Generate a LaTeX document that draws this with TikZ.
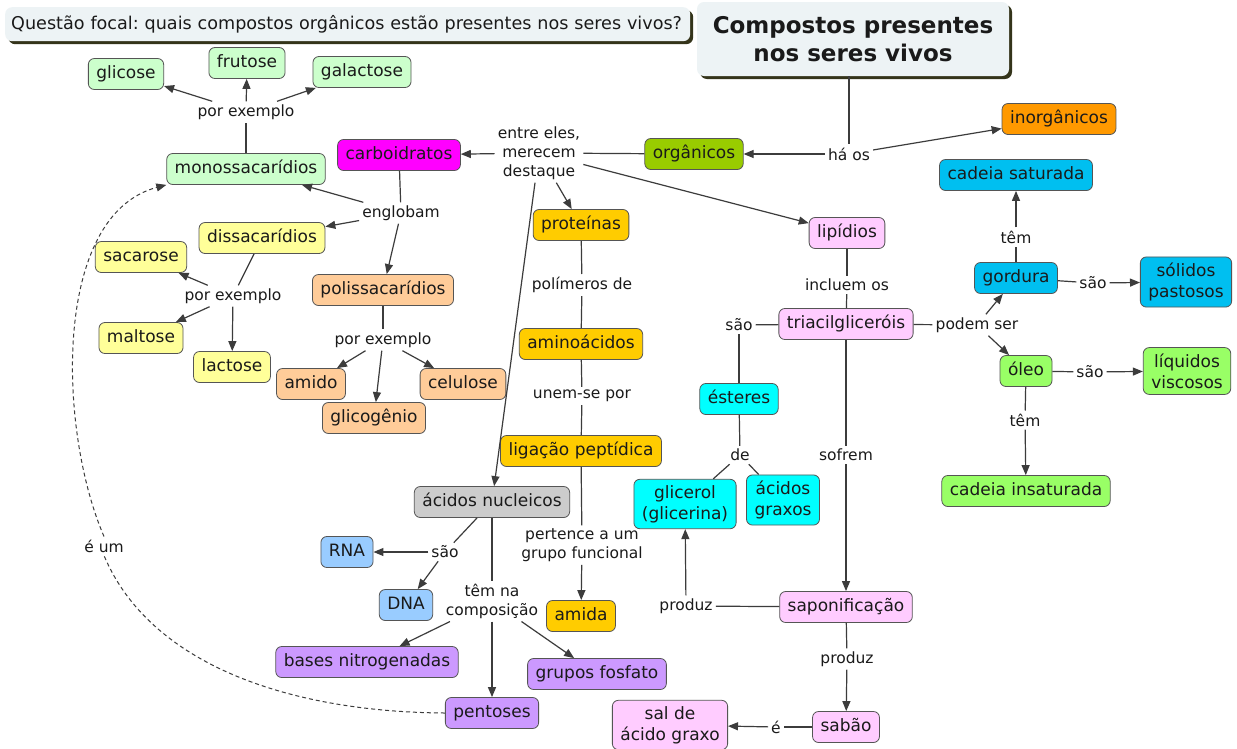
\documentclass[tikz,border=0pt]{standalone}
\usepackage{fontspec}
\setmainfont{DejaVu Sans}
\usetikzlibrary{arrows.meta,shadows}
\frenchspacing

\definecolor{textc}{HTML}{1A1A1A}
\definecolor{edgec}{HTML}{555555}
\definecolor{linec}{HTML}{3C3C3C}
\definecolor{headfill}{HTML}{EDF3F5}
\definecolor{headshadow}{HTML}{34341A}
\definecolor{mint}{HTML}{CCFFCC}
\definecolor{magen}{HTML}{FF00FF}
\definecolor{yelgreen}{HTML}{99CC00}
\definecolor{orangec}{HTML}{FF9900}
\definecolor{skyc}{HTML}{00BFF0}
\definecolor{paleyel}{HTML}{FFFF99}
\definecolor{peach}{HTML}{FFCC99}
\definecolor{goldc}{HTML}{FFCC00}
\definecolor{pinkc}{HTML}{FFCCFF}
\definecolor{limec}{HTML}{99FF66}
\definecolor{cyanc}{HTML}{00FFFF}
\definecolor{grayc}{HTML}{CCCCCC}
\definecolor{bluec}{HTML}{99CCFF}
\definecolor{lavc}{HTML}{CC99FF}

\newcommand\cmnodefont{\fontsize{17}{21}\selectfont}
\newcommand\cmfocalfont{\fontsize{17.6}{21}\selectfont}
\newcommand\cmlinkfont{\fontsize{15.5}{19}\selectfont}
\newcommand\cmtitlefont{\fontsize{23}{28}\selectfont\bfseries}

\tikzset{
  box/.style={draw=edgec, line width=0.8pt, rounded corners=6pt, inner xsep=8pt,
              font=\cmnodefont, text=textc},
  one/.style={box, inner ysep=7pt, text height=13pt, text depth=4pt},
  two/.style={box, inner ysep=6pt, align=center},
  lbl/.style={font=\cmlinkfont, text=textc, inner sep=3pt, align=center},
  conn/.style={draw=linec, line width=1.2pt},
  arr/.style={conn, -{Triangle[length=10pt,width=8pt]}},
  headbox/.style={fill=headfill, rounded corners=7pt, text=textc,
                  drop shadow={shadow xshift=3pt, shadow yshift=-3pt,
                               shadow scale=1, fill=headshadow, opacity=1}},
}

\begin{document}
\begin{tikzpicture}[x=1pt,y=-1pt]
\useasboundingbox (0,0) rectangle (1237,748);
\fill[white] (0,0) rectangle (1237,748);

% header boxes
\node[headbox, font=\cmfocalfont, anchor=north west, text width=673pt, align=left,
      inner xsep=6pt, minimum height=34pt] (focal) at (5,7)
  {\mbox{Questão focal: quais compostos orgânicos estão presentes nos seres vivos?}};
\node[headbox, font=\cmtitlefont, align=center, minimum width=312pt,
      minimum height=74pt] (title) at (853,39) {Compostos presentes\\nos seres vivos};

% concepts
\node[one, fill=mint] (glicose) at (126,74) {glicose};
\node[one, fill=mint] (frutose) at (247,63) {frutose};
\node[one, fill=mint] (galact) at (362,72) {galactose};
\node[one, fill=mint] (mono) at (246,169) {monossacarídios};
\node[one, fill=magen] (carbo) at (399,155) {carboidratos};
\node[one, fill=yelgreen] (org) at (694,154) {orgânicos};
\node[one, fill=orangec] (inorg) at (1059,119) {inorgânicos};
\node[one, fill=skyc] (csat) at (1016,175) {cadeia saturada};
\node[one, fill=paleyel] (dissac) at (262,238) {dissacarídios};
\node[one, fill=paleyel] (sacar) at (141,257) {sacarose};
\node[one, fill=paleyel] (malt) at (141,338) {maltose};
\node[one, fill=paleyel] (lact) at (232,367) {lactose};
\node[one, fill=peach] (polis) at (383,290) {polissacarídios};
\node[one, fill=peach] (amido) at (311,384) {amido};
\node[one, fill=peach] (glicog) at (374,418) {glicogênio};
\node[one, fill=peach] (celul) at (463,384) {celulose};
\node[one, fill=goldc] (prot) at (581,225) {proteínas};
\node[one, fill=goldc] (amino) at (581,344) {aminoácidos};
\node[one, fill=goldc] (lig) at (581,451) {ligação peptídica};
\node[one, fill=goldc] (amida) at (581,616) {amida};
\node[one, fill=pinkc] (lip) at (847,233) {lipídios};
\node[one, fill=pinkc] (triac) at (846,324) {triacilgliceróis};
\node[one, fill=pinkc] (sapon) at (846,607) {saponificação};
\node[one, fill=pinkc] (sabao) at (846,727) {sabão};
\node[two, fill=pinkc] (sal) at (670,725) {sal de\\ácido graxo};
\node[one, fill=skyc] (gord) at (1016,278) {gordura};
\node[two, fill=skyc] (solid) at (1186,282) {sólidos\\pastosos};
\node[one, fill=limec] (oleo) at (1026,371) {óleo};
\node[two, fill=limec] (liq) at (1187,371) {líquidos\\viscosos};
\node[one, fill=limec] (cins) at (1026,491) {cadeia insaturada};
\node[one, fill=cyanc] (ester) at (739,399) {ésteres};
\node[two, fill=cyanc] (glicer) at (685,504) {glicerol\\(glicerina)};
\node[two, fill=cyanc] (acgrax) at (783,500) {ácidos\\graxos};
\node[one, fill=grayc] (nucl) at (492,502) {ácidos nucleicos};
\node[one, fill=bluec] (rna) at (347,552) {RNA};
\node[one, fill=bluec] (dna) at (406,605) {DNA};
\node[one, fill=lavc] (bases) at (367,662) {bases nitrogenadas};
\node[one, fill=lavc] (fosf) at (597,674) {grupos fosfato};
\node[one, fill=lavc] (pent) at (492,713) {pentoses};

% linking phrases
\node[lbl] (peA) at (246,112) {por exemplo};
\node[lbl] (entre) at (539,153) {entre eles,\\merecem\\destaque};
\node[lbl] (haos) at (849,154) {há os};
\node[lbl] (englob) at (401,213) {englobam};
\node[lbl] (peB) at (233,296) {por exemplo};
\node[lbl] (peC) at (383,340) {por exemplo};
\node[lbl] (polim) at (582,285) {polímeros de};
\node[lbl] (unem) at (582,396) {unem-se por};
\node[lbl] (pert) at (582,545) {pertence a um\\grupo funcional};
\node[lbl] (incl) at (847,285) {incluem os};
\node[lbl] (saoT) at (739,325) {são};
\node[lbl] (podem) at (977,325) {podem ser};
\node[lbl] (temG) at (1016,237) {têm};
\node[lbl] (saoG) at (1093,283) {são};
\node[lbl] (saoO) at (1090,372) {são};
\node[lbl] (temO) at (1025,420) {têm};
\node[lbl] (de) at (740,455) {de};
\node[lbl] (sofrem) at (846,455) {sofrem};
\node[lbl] (prodA) at (686,606) {produz};
\node[lbl] (prodB) at (847,659) {produz};
\node[lbl] (eh) at (776,727) {é};
\node[lbl] (saoN) at (445,552) {são};
\node[lbl] (temN) at (492,601) {têm na\\composição};
\node[lbl] (eum) at (104,546) {é um};

% connectors
\draw[conn] (haos |- title.south) -- (haos);
\draw[arr] (haos) -- (org);
\draw[arr] (haos) -- (inorg);
\draw[conn] (org) -- (entre);
\draw[arr] (entre) -- (carbo);
\draw[arr] (entre) -- (prot);
\draw[arr] (entre) -- (lip);
\draw[arr] (entre) -- (nucl);

\draw[conn] (carbo) -- (englob);
\draw[arr] (englob) -- (mono);
\draw[arr] (englob) -- (dissac);
\draw[arr] (englob) -- (polis);

\draw[conn] (mono) -- (peA);
\draw[arr] (peA) -- (glicose);
\draw[arr] (peA) -- (frutose);
\draw[arr] (peA) -- (galact);

\draw[conn] (dissac) -- (peB);
\draw[arr] (peB) -- (sacar);
\draw[arr] (peB) -- (malt);
\draw[arr] (peB) -- (lact);

\draw[conn] (polis) -- (peC);
\draw[arr] (peC) -- (amido);
\draw[arr] (peC) -- (glicog);
\draw[arr] (peC) -- (celul);

\draw[conn] (prot) -- (polim);
\draw[conn] (polim) -- (amino);
\draw[conn] (amino) -- (unem);
\draw[conn] (unem) -- (lig);
\draw[conn] (lig) -- (pert);
\draw[arr] (pert) -- (amida);

\draw[conn] (nucl) -- (saoN);
\draw[arr] (saoN) -- (rna);
\draw[arr] (saoN) -- (dna);
\draw[conn] (nucl) -- (temN);
\draw[arr] (temN) -- (bases);
\draw[arr] (temN) -- (pent);
\draw[arr] (temN) -- (fosf);

\draw[conn] (lip) -- (incl);
\draw[conn] (incl) -- (triac);
\draw[conn] (triac) -- (saoT);
\draw[conn] (saoT) -- (ester);
\draw[conn] (ester) -- (de);
\draw[conn] (de) -- (glicer);
\draw[conn] (de) -- (acgrax);
\draw[conn] (triac) -- (podem);
\draw[arr] (podem) -- (gord);
\draw[arr] (podem) -- (oleo);
\draw[conn] (gord) -- (temG);
\draw[arr] (temG) -- (csat);
\draw[conn] (gord) -- (saoG);
\draw[arr] (saoG) -- (solid);
\draw[conn] (oleo) -- (saoO);
\draw[arr] (saoO) -- (liq);
\draw[conn] (oleo) -- (temO);
\draw[arr] (temO) -- (cins);
\draw[conn] (triac) -- (sofrem);
\draw[arr] (sofrem) -- (sapon);
\draw[conn] (sapon) -- (prodA);
\draw[arr] (prodA) -- (glicer);
\draw[conn] (sapon) -- (prodB);
\draw[arr] (prodB) -- (sabao);
\draw[conn] (sabao) -- (eh);
\draw[arr] (eh) -- (sal);

% pentoses are monosaccharides
\draw[conn, line width=1pt, dash pattern=on 4pt off 3pt]
  (pent.west) .. controls (290,712) and (150,665) .. (eum.south);
\draw[conn, line width=1pt, dash pattern=on 4pt off 3pt, -{Triangle[length=10pt,width=8pt]}]
  (eum.north) .. controls (58,430) and (52,215) .. (mono.south west);
\end{tikzpicture}
\end{document}
